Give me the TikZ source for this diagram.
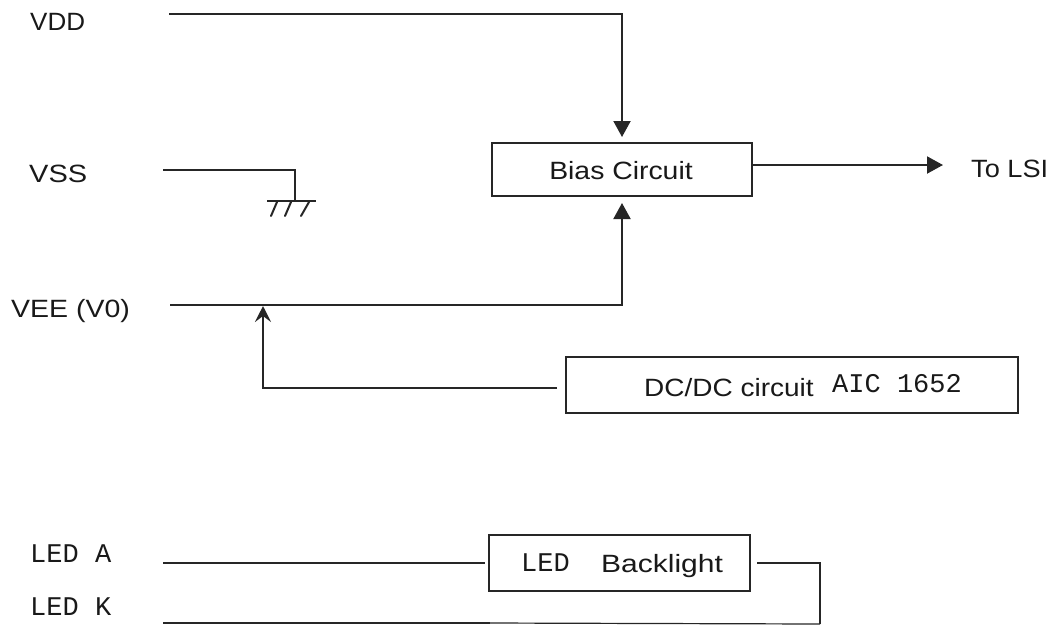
\documentclass[tikz,border=0pt]{standalone}
\usepackage{fontspec}
\setmainfont{Liberation Sans}
\newfontfamily\monof{Liberation Mono}
\usetikzlibrary{arrows.meta}
\newcommand{\widetxt}[2]{\scalebox{#1}[1]{#2}}
\tikzset{
  x=1pt,y=-1pt,
  wire/.style={draw=black!85,line width=2pt},
  thinwire/.style={draw=black!85,line width=1.2pt},
  arrowwire/.style={wire,-{Triangle[length=16pt,width=17pt]}},
  openarrow/.style={wire,-{Stealth[length=16pt,width=16pt,inset=6pt]}},
  box/.style={draw=black!85,line width=2.2pt,fill=white,inner sep=0pt,anchor=north west},
  sans/.style={font=\fontsize{25}{25}\selectfont,inner sep=0pt,text=black!90},
  mono/.style={font=\monof\fontsize{27}{27}\selectfont,inner sep=0pt,text=black!90},
}
\begin{document}
\begin{tikzpicture}
\useasboundingbox (0,0) rectangle (1051,625);
% boxes
\node[box,minimum width=260pt,minimum height=53pt] (bias) at (491,142) {};
\node[box,minimum width=452pt,minimum height=56pt] (dcdc) at (565,356) {};
\node[box,minimum width=261pt,minimum height=56pt] (led) at (488,534) {};
% box texts
\node[sans] (biast) at (621,171) {\widetxt{1.135}{Bias Circuit}};
\node[sans,anchor=west] (dct) at (644,388) {\widetxt{1.12}{DC/DC circuit}};
\node[mono,anchor=west] (aic) at (832,384) {AIC 1652};
\node[mono,anchor=west] (ledt) at (521,563) {LED};
\node[sans,anchor=west] (blt) at (601,566) {\widetxt{1.2}{Backlight}};
% terminal labels
\node[sans,anchor=west] (vdd) at (30,22) {\widetxt{1.04}{VDD}};
\node[sans,anchor=west] (vss) at (29,174) {\widetxt{1.16}{VSS}};
\node[sans,anchor=west] (vee) at (11,311) {\widetxt{1.14}{VEE (V0)}};
\node[sans,anchor=west] (lsi) at (971,169) {\widetxt{1.086}{To LSI}};
\node[mono,anchor=west] (leda) at (30,554) {LED A};
\node[mono,anchor=west] (ledk) at (30,607) {LED K};
% named connector ends
\coordinate (vddS) at (169,14);
\coordinate (vddC) at (622,14);
\coordinate (biasT) at (622,137);
\coordinate (biasB) at (622,203);
\coordinate (veeS) at (170,305);
\coordinate (veeC) at (622,305);
\coordinate (lsiS) at (752,165);
\coordinate (lsiE) at (943,165);
\coordinate (dcS) at (557,388);
\coordinate (dcC) at (263,388);
\coordinate (veeJ) at (263,306);
\coordinate (vssS) at (163,170);
\coordinate (vssC) at (295,170);
\coordinate (gnd) at (295,201);
\coordinate (gndL) at (267,201);
\coordinate (gndR) at (316,201);
\coordinate (ledAS) at (163,563);
\coordinate (ledAE) at (485,563);
\coordinate (ledOS) at (757,563);
\coordinate (ledOC) at (820,563);
\coordinate (ledOB) at (820,624);
\coordinate (ledKS) at (163,623);
\coordinate (ledKE) at (490,623);
% connectors
\draw[arrowwire] (vddS) -- (vddC) -- (biasT);
\draw[arrowwire] (veeS) -- (veeC) -- (biasB);
\draw[arrowwire] (lsiS) -- (lsiE);
\draw[openarrow] (dcS) -- (dcC) -- (veeJ);
\draw[wire] (vssS) -- (vssC) -- (gnd);
\draw[wire] (gndL) -- (gndR);
\draw[wire,line cap=round] (277,202) -- (271,216);
\draw[wire,line cap=round] (291,202) -- (285,216);
\draw[wire,line cap=round] (309,202) -- (301,216);
\draw[wire] (ledAS) -- (ledAE);
\draw[wire] (ledOS) -- (ledOC) -- (ledOB);
\draw[wire] (ledKS) -- (ledKE);
\draw[thinwire] (ledKE) -- (ledOB);
\end{tikzpicture}
\end{document}
